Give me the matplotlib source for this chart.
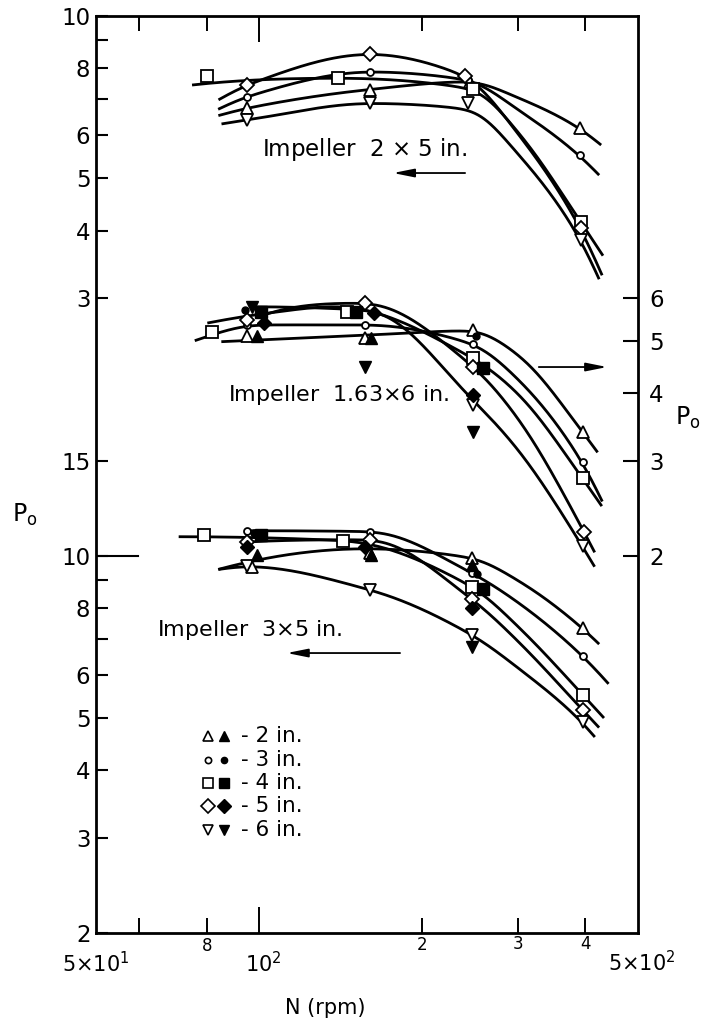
import numpy as np
import matplotlib
matplotlib.use("Agg")
import matplotlib.pyplot as plt
from matplotlib.ticker import NullFormatter

plt.rcParams["font.family"] = ["DejaVu Sans"]

# ---- power number vs impeller speed, three impellers, five clearances ----
# open markers: N (rpm), Po
# impeller 2x5 in. (left axis, upper decade)
t2_n, t2_po = [95, 160, 245, 390], [6.74, 7.28, 7.55, 6.19]
t3_n, t3_po = [95, 160, 243, 390], [7.08, 7.87, 7.60, 5.51]
t4_n, t4_po = [80, 140, 248, 392], [7.74, 7.66, 7.31, 4.15]
t5_n, t5_po = [95, 160, 240, 392], [7.44, 8.49, 7.73, 4.04]
t6_n, t6_po = [95, 160, 243, 392], [6.41, 6.88, 6.88, 3.85]

# impeller 1.63x6 in. (right axis)
m2_n, m2_po = [95, 157, 248, 395], [5.10, 5.05, 5.24, 3.39]
m3_n, m3_po = [95, 157, 248, 395], [5.35, 5.35, 4.93, 2.98]
m4_n, m4_po = [82, 145, 248, 395], [5.18, 5.66, 4.64, 2.78]
m5_n, m5_po = [95, 157, 248, 398], [5.47, 5.87, 4.48, 2.21]
m6_n, m6_po = [248, 395], [3.80, 2.08]
m2f_n, m2f_po = [99, 161], [5.10, 5.05]
m3f_n, m3f_po = [94, 251], [5.69, 5.10]
m4f_n, m4f_po = [101, 151, 259], [5.65, 5.66, 4.45]
m5f_n, m5f_po = [102, 163, 248], [5.39, 5.62, 3.97]
m6f_n, m6f_po = [97, 157, 248], [5.78, 4.48, 3.39]

# impeller 3x5 in. (left axis, lower part)
b2_n, b2_po = [97, 160, 247, 395], [9.54, 10.10, 9.89, 7.34]
b3_n, b3_po = [95, 160, 247, 395], [11.12, 11.08, 9.28, 6.52]
b4_n, b4_po = [79, 143, 247, 395], [10.92, 10.66, 8.76, 5.53]
b5_n, b5_po = [95, 160, 247, 395], [10.60, 10.70, 8.30, 5.18]
b6_n, b6_po = [95, 160, 247, 395], [9.57, 8.64, 7.13, 4.91]
b2f_n, b2f_po = [99, 161, 247], [10.03, 10.03, 9.61]
b3f_n, b3f_po = [98, 252], [11.0, 9.25]
b4f_n, b4f_po = [101, 259], [10.92, 8.67]
b5f_n, b5f_po = [95, 157, 247], [10.36, 10.39, 7.99]
b6f_n, b6f_po = [247], [6.78]

# points along the faired curves (first/last = curve ends)
t2c_n, t2c_po = [84, 95, 160, 245, 300, 390, 428], [6.53, 6.74, 7.30, 7.55, 7.05, 6.19, 5.76]
t3c_n, t3c_po = [84, 95, 160, 243, 300, 390, 424], [6.71, 7.08, 7.87, 7.60, 6.70, 5.51, 5.07]
t4c_n, t4c_po = [75, 140, 248, 300, 392, 432], [7.44, 7.66, 7.31, 6.10, 4.15, 3.58]
t5c_n, t5c_po = [84, 95, 160, 240, 300, 392, 430], [6.98, 7.44, 8.49, 7.73, 6.05, 4.04, 3.30]
t6c_n, t6c_po = [85, 95, 160, 245, 300, 392, 425], [6.30, 6.41, 6.88, 6.70, 5.55, 3.85, 3.24]

m2c_n, m2c_po = [85, 157, 248, 300, 395, 422], [4.98, 5.12, 5.22, 4.72, 3.39, 3.10]
m3c_n, m3c_po = [76, 100, 157, 248, 300, 395, 430], [5.00, 5.35, 5.35, 4.93, 4.25, 2.98, 2.52]
m4c_n, m4c_po = [80, 103, 139, 248, 300, 395, 430], [5.39, 5.62, 5.79, 4.64, 4.00, 2.78, 2.46]
m5c_n, m5c_po = [100, 157, 248, 300, 398, 417], [5.55, 5.87, 4.48, 3.60, 2.21, 2.02]
m6c_n, m6c_po = [97, 160, 248, 300, 395, 417], [5.78, 5.69, 3.88, 3.15, 2.08, 1.90]

b2c_n, b2c_po = [84, 157, 247, 300, 395, 424], [9.43, 10.3, 9.90, 9.00, 7.34, 6.86]
b3c_n, b3c_po = [95, 160, 247, 300, 395, 442], [11.12, 11.08, 9.28, 8.20, 6.52, 5.78]
b4c_n, b4c_po = [71, 143, 247, 300, 395, 433], [10.84, 10.66, 8.76, 7.40, 5.53, 5.00]
b5c_n, b5c_po = [95, 160, 247, 300, 395, 424], [10.60, 10.70, 8.30, 6.95, 5.18, 4.80]
b6c_n, b6c_po = [84, 95, 160, 247, 300, 395, 417], [9.43, 9.55, 8.64, 7.13, 6.20, 4.91, 4.61]

clearances = ["2", "3", "4", "5", "6"]
markers = ["^", "o", "s", "D", "v"]
msizes = [8, 5, 8, 7.5, 8]

left_ticks = [2, 3, 4, 5, 6, 8, 10, 15, 30, 40, 50, 60, 80, 100]
left_labels = ["2", "3", "4", "5", "6", "8", "10", "15", "3", "4", "5", "6", "8", "10"]
right_ticks = [2, 3, 4, 5, 6]


def pchip(x, y, xs):
    # shape preserving cubic hermite through the curve points,
    # straight continuation beyond the ends
    x = np.asarray(x, float)
    y = np.asarray(y, float)
    h = np.diff(x)
    d = np.diff(y) / h
    m = np.zeros_like(y)
    for k in range(1, len(x) - 1):
        if d[k - 1] * d[k] > 0:
            w1 = 2 * h[k] + h[k - 1]
            w2 = h[k] + 2 * h[k - 1]
            m[k] = (w1 + w2) / (w1 / d[k - 1] + w2 / d[k])

    def end_slope(h0, h1, d0, d1):
        s = ((2 * h0 + h1) * d0 - h0 * d1) / (h0 + h1)
        if np.sign(s) != np.sign(d0):
            return 0.0
        if np.sign(d0) != np.sign(d1) and abs(s) > abs(3 * d0):
            return 3 * d0
        return s

    m[0] = end_slope(h[0], h[1], d[0], d[1])
    m[-1] = end_slope(h[-1], h[-2], d[-1], d[-2])
    xc = np.clip(xs, x[0], x[-1])
    i = np.clip(np.searchsorted(x, xc) - 1, 0, len(h) - 1)
    t = (xc - x[i]) / h[i]
    out = ((2 * t**3 - 3 * t**2 + 1) * y[i] + (t**3 - 2 * t**2 + t) * h[i] * m[i]
           + (-2 * t**3 + 3 * t**2) * y[i + 1] + (t**3 - t**2) * h[i] * m[i + 1])
    out = np.where(xs < x[0], y[0] + m[0] * (xs - x[0]), out)
    out = np.where(xs > x[-1], y[-1] + m[-1] * (xs - x[-1]), out)
    return out


def fair(n, po, sigma=0.022, num=600):
    # hermite curve in log-log, then a light gaussian fairing
    lx, ly = np.log10(n), np.log10(po)
    pad = 4 * sigma
    xs = np.linspace(lx[0] - pad, lx[-1] + pad, num)
    ys = pchip(lx, ly, xs)
    step = xs[1] - xs[0]
    kx = np.arange(-int(pad / step), int(pad / step) + 1) * step
    k = np.exp(-0.5 * (kx / sigma) ** 2)
    k /= k.sum()
    ys = np.convolve(ys, k, mode="same")
    keep = (xs >= lx[0]) & (xs <= lx[-1])
    return 10 ** xs[keep], 10 ** ys[keep]


def draw_group(ax, curves, opens, fills=None):
    for (cn, cp) in curves:
        x, y = fair(cn, cp)
        ax.plot(x, y, color="k", lw=2.0, solid_capstyle="butt", zorder=2)
    for i, (n, p) in enumerate(opens):
        ax.plot(n, p, ls="none", marker=markers[i], ms=msizes[i], mfc="white",
                mec="k", mew=1.3, zorder=3)
    if fills:
        for i, (n, p) in enumerate(fills):
            ax.plot(n, p, ls="none", marker=markers[i], ms=msizes[i], mfc="k",
                    mec="k", mew=1.0, zorder=4)


fig = plt.figure(figsize=(7.08, 10.27), dpi=100)
ax = fig.add_axes([0.13559, 0.09153, 0.76554, 0.89318])
ax.set_xscale("log")
ax.set_yscale("log")
ax.set_xlim(50, 500)
ax.set_ylim(2, 100)

ax_mid = ax.twinx()
ax_mid.set_yscale("log")
ax_mid.set_ylim(0.4, 20)
ax_top = ax.twinx()
ax_top.set_yscale("log")
ax_top.set_ylim(0.2, 10)
ax_top.axis("off")

for s in ax.spines.values():
    s.set_linewidth(2.0)
for s in ax_mid.spines.values():
    s.set_visible(False)

# x ticks: long one at 10^2, short ones elsewhere, top and bottom
ax.set_xticks([100])
ax.set_xticks([60, 80, 200, 300, 400], minor=True)
ax.xaxis.set_major_formatter(NullFormatter())
ax.xaxis.set_minor_formatter(NullFormatter())
ax.tick_params(axis="x", which="major", direction="in", top=True, bottom=True,
               length=19, width=1.4)
ax.tick_params(axis="x", which="minor", direction="in", top=True, bottom=True,
               length=10.5, width=1.4)

# left axis: one log scale, upper decade labelled as Po of the 2x5 impeller
ax.set_yticks(left_ticks, left_labels)
ax.set_yticks([7, 9, 70, 90], minor=True)
ax.yaxis.set_minor_formatter(NullFormatter())
ax.tick_params(axis="y", which="both", direction="in", left=True, right=False,
               length=8.5, width=1.5, labelsize=16.5, pad=4)
ax.axhline(10, xmin=0, xmax=0.078, color="k", lw=1.5)

ax_mid.set_yticks(right_ticks, [str(t) for t in right_ticks])
ax_mid.set_yticks([], minor=True)
ax_mid.tick_params(axis="y", which="major", direction="in", length=11,
                   width=1.5, labelsize=16.5, pad=8)

xlab = [(50, r"5$\times$10$^1$", 15, -0.033), (80, "8", 12, -0.014),
        (102, r"10$^2$", 15, -0.033), (200, "2", 12, -0.013),
        (300, "3", 12, -0.012), (400, "4", 12, -0.012),
        (508, r"5$\times$10$^2$", 15, -0.032)]
xt = ax.get_xaxis_transform()
for xv, lab, fs, yv in xlab:
    ax.text(xv, yv, lab, transform=xt, ha="center", va="center", fontsize=fs)
ax.text(0.4225, -0.082, "N (rpm)", transform=ax.transAxes, ha="center",
        va="center", fontsize=15)

fig.text(0.035, 0.499, r"$\mathregular{P_o}$", fontsize=17, ha="center", va="center")
fig.text(0.972, 0.593, r"$\mathregular{P_o}$", fontsize=17, ha="center", va="center")

draw_group(ax_top,
           [(t2c_n, t2c_po), (t3c_n, t3c_po), (t4c_n, t4c_po), (t5c_n, t5c_po), (t6c_n, t6c_po)],
           [(t2_n, t2_po), (t3_n, t3_po), (t4_n, t4_po), (t5_n, t5_po), (t6_n, t6_po)])
draw_group(ax_mid,
           [(m2c_n, m2c_po), (m3c_n, m3c_po), (m4c_n, m4c_po), (m5c_n, m5c_po), (m6c_n, m6c_po)],
           [(m2_n, m2_po), (m3_n, m3_po), (m4_n, m4_po), (m5_n, m5_po), (m6_n, m6_po)],
           [(m2f_n, m2f_po), (m3f_n, m3f_po), (m4f_n, m4f_po), (m5f_n, m5f_po), (m6f_n, m6f_po)])
draw_group(ax,
           [(b2c_n, b2c_po), (b3c_n, b3c_po), (b4c_n, b4c_po), (b5c_n, b5c_po), (b6c_n, b6c_po)],
           [(b2_n, b2_po), (b3_n, b3_po), (b4_n, b4_po), (b5_n, b5_po), (b6_n, b6_po)],
           [(b2f_n, b2f_po), (b3f_n, b3f_po), (b4f_n, b4f_po), (b5f_n, b5f_po), (b6f_n, b6f_po)])

# impeller labels with arrows pointing to the axis used
tr = ax.transAxes
ax.text(0.306, 0.8536, r"Impeller  2 $\times$ 5 in.", transform=tr, ha="left",
        va="center", fontsize=16.5)
ax.text(0.2435, 0.5865, r"Impeller  1.63$\times$6 in.", transform=tr, ha="left",
        va="center", fontsize=16)
ax.text(0.1125, 0.330, r"Impeller  3$\times$5 in.", transform=tr, ha="left",
        va="center", fontsize=16)
arrow = dict(arrowstyle="-|>,head_length=0.9,head_width=0.18", color="k",
             lw=1.3, mutation_scale=14, shrinkA=0, shrinkB=0)
ax.annotate("", xy=(0.548, 0.8285), xytext=(0.681, 0.8285), xycoords=tr,
            textcoords=tr, arrowprops=arrow)
ax.annotate("", xy=(0.943, 0.617), xytext=(0.817, 0.617), xycoords=tr,
            textcoords=tr, arrowprops=arrow)
ax.annotate("", xy=(0.352, 0.3052), xytext=(0.561, 0.3052), xycoords=tr,
            textcoords=tr, arrowprops=arrow)

# key: open / filled marker pairs
rows = [0.2148, 0.1886, 0.1635, 0.1384, 0.1123]
for i, c in enumerate(clearances):
    ax.plot(0.2066, rows[i], transform=tr, marker=markers[i], ms=msizes[i] - 0.5,
            mfc="white", mec="k", mew=1.2, ls="none", clip_on=False)
    ax.plot(0.2362, rows[i], transform=tr, marker=markers[i], ms=msizes[i] - 0.5,
            mfc="k", mec="k", ls="none", clip_on=False)
    ax.text(0.268, rows[i], "- %s in." % c, transform=tr, ha="left", va="center",
            fontsize=15.5)

fig.savefig("out.png", dpi=100)
